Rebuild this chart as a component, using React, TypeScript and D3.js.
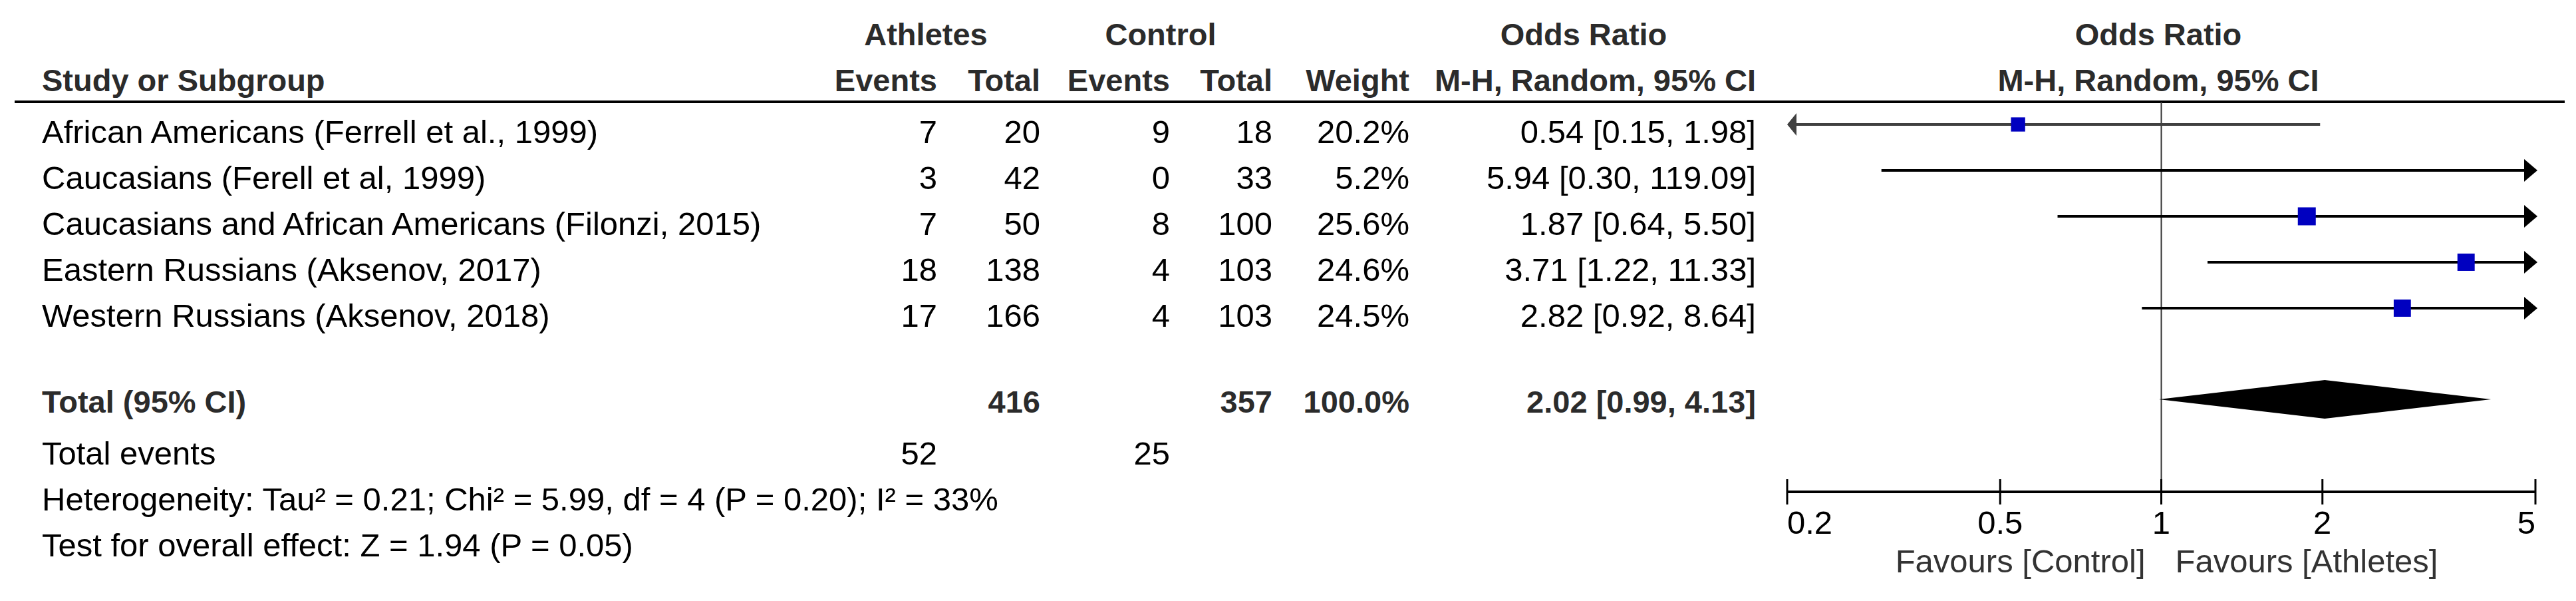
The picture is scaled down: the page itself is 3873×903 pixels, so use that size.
import React from "react";
import * as d3 from "d3";

const studies = [
  "African Americans (Ferrell et al., 1999)",
  "Caucasians (Ferell et al, 1999)",
  "Caucasians and African Americans (Filonzi, 2015)",
  "Eastern Russians (Aksenov, 2017)",
  "Western Russians (Aksenov, 2018)",
];
const athEvents = [7, 3, 7, 18, 17];
const athTotal = [20, 42, 50, 138, 166];
const ctlEvents = [9, 0, 8, 4, 4];
const ctlTotal = [18, 33, 100, 103, 103];
const weights = [20.2, 5.2, 25.6, 24.6, 24.5];
const oddsRatio = [0.54, 5.94, 1.87, 3.71, 2.82];
const ciLow = [0.15, 0.3, 0.64, 1.22, 0.92];
const ciHigh = [1.98, 119.09, 5.5, 11.33, 8.64];

const totalAth = 416;
const totalCtl = 357;
const totalWeight = 100.0;
const totalOR = 2.02;
const totalLow = 0.99;
const totalHigh = 4.13;
const totalEventsAth = 52;
const totalEventsCtl = 25;

const heterogeneityText = "Heterogeneity: Tau\u00B2 = 0.21; Chi\u00B2 = 5.99, df = 4 (P = 0.20); I\u00B2 = 33%";
const overallText = "Test for overall effect: Z = 1.94 (P = 0.05)";
const axisTicks = [0.2, 0.5, 1, 2, 5];

const W = 3873;
const H = 903;
const FONT = "'Liberation Sans', Arial, sans-serif";
const REG = 49;
const BOLD = 47;
const HEAD = "#2b2b2b";

export default function App() {
  const x = d3.scaleLog().domain([0.2, 5]).range([2687, 3812]);
  const rowY = d3.scaleLinear().domain([0, 1]).range([215, 284]);
  const sq = d3.scaleLinear().domain([0, 25.6]).range([0, 27]);
  const [dMin, dMax] = x.domain();

  const col = { aEv: 1409, aTot: 1564, cEv: 1759, cTot: 1913, wt: 2119, or: 2640 };
  const fmt2 = d3.format(".2f");
  const fmtW = (v: number) => d3.format(".1f")(v) + "%";
  const ciText = (o: number, l: number, h: number) => `${fmt2(o)} [${fmt2(l)}, ${fmt2(h)}]`;

  const totalY = 620;
  const eventsY = 698;
  const hetY = 767;
  const testY = 836;
  const axisY = 739;
  const headerLineY = 153;

  return (
    <svg
      width={W}
      height={H}
      viewBox={`0 0 ${W} ${H}`}
      style={{ position: "absolute", left: 0, top: 0, display: "block", background: "#fff" }}
      fontFamily={FONT}
    >
      <rect x={0} y={0} width={W} height={H} fill="#fff" />
      {/* header row 1 */}
      <g fontWeight="bold" fontSize={BOLD} fill={HEAD}>
        <text x={1392} y={68} textAnchor="middle">Athletes</text>
        <text x={1745} y={68} textAnchor="middle">Control</text>
        <text x={2381} y={68} textAnchor="middle">Odds Ratio</text>
        <text x={3245} y={68} textAnchor="middle">Odds Ratio</text>
        <text x={63} y={137}>Study or Subgroup</text>
        <text x={col.aEv} y={137} textAnchor="end">Events</text>
        <text x={col.aTot} y={137} textAnchor="end">Total</text>
        <text x={col.cEv} y={137} textAnchor="end">Events</text>
        <text x={col.cTot} y={137} textAnchor="end">Total</text>
        <text x={col.wt} y={137} textAnchor="end">Weight</text>
        <text x={col.or} y={137} textAnchor="end">M-H, Random, 95% CI</text>
        <text x={3245} y={137} textAnchor="middle">M-H, Random, 95% CI</text>
      </g>
      <line x1={22} x2={3856} y1={headerLineY} y2={headerLineY} stroke="#000" strokeWidth={4} />

      {/* study rows */}
      <g fontSize={REG} fill="#000">
        {studies.map((s, i) => {
          const y = rowY(i);
          return (
            <g key={s}>
              <text x={63} y={y}>{s}</text>
              <text x={col.aEv} y={y} textAnchor="end">{athEvents[i]}</text>
              <text x={col.aTot} y={y} textAnchor="end">{athTotal[i]}</text>
              <text x={col.cEv} y={y} textAnchor="end">{ctlEvents[i]}</text>
              <text x={col.cTot} y={y} textAnchor="end">{ctlTotal[i]}</text>
              <text x={col.wt} y={y} textAnchor="end">{fmtW(weights[i])}</text>
              <text x={col.or} y={y} textAnchor="end">{ciText(oddsRatio[i], ciLow[i], ciHigh[i])}</text>
            </g>
          );
        })}
      </g>

      {/* total rows */}
      <g fontWeight="bold" fontSize={BOLD} fill={HEAD}>
        <text x={63} y={totalY}>Total (95% CI)</text>
        <text x={col.aTot} y={totalY} textAnchor="end">{totalAth}</text>
        <text x={col.cTot} y={totalY} textAnchor="end">{totalCtl}</text>
        <text x={col.wt} y={totalY} textAnchor="end">{fmtW(totalWeight)}</text>
        <text x={col.or} y={totalY} textAnchor="end">{ciText(totalOR, totalLow, totalHigh)}</text>
      </g>
      <g fontSize={REG} fill="#000">
        <text x={63} y={eventsY}>Total events</text>
        <text x={col.aEv} y={eventsY} textAnchor="end">{totalEventsAth}</text>
        <text x={col.cEv} y={eventsY} textAnchor="end">{totalEventsCtl}</text>
        <text x={63} y={hetY}>{heterogeneityText}</text>
        <text x={63} y={testY}>{overallText}</text>
      </g>

      {/* null line */}
      <line x1={x(1)} x2={x(1)} y1={headerLineY} y2={axisY} stroke="#333" strokeWidth={2} />

      {/* CI lines and squares */}
      {studies.map((s, i) => {
        const cy = rowY(i) - 28;
        const lo = Math.max(ciLow[i], dMin);
        const hi = Math.min(ciHigh[i], dMax);
        const color = i === 0 ? "#404040" : "#000";
        const x1 = x(lo);
        const x2 = ciHigh[i] > dMax ? x(dMax) - 10 : x(hi);
        const size = sq(weights[i]);
        const showSq = oddsRatio[i] >= dMin && oddsRatio[i] <= dMax;
        return (
          <g key={"ci" + s}>
            <line x1={ciLow[i] < dMin ? x1 + 6 : x1} x2={x2} y1={cy} y2={cy} stroke={color} strokeWidth={4} />
            {ciLow[i] < dMin && (
              <path d={`M${x(dMin)},${cy} L${x(dMin) + 14},${cy - 17} L${x(dMin) + 14},${cy + 17} Z`} fill={color} />
            )}
            {ciHigh[i] > dMax && (
              <path d={`M${x(dMax) + 3},${cy} L${x(dMax) - 17},${cy - 17} L${x(dMax) - 17},${cy + 17} Z`} fill="#000" />
            )}
            {showSq && (
              <rect
                x={x(oddsRatio[i]) - size / 2}
                y={cy - size / 2}
                width={size}
                height={size}
                fill="#0000c0"
              />
            )}
          </g>
        );
      })}

      {/* diamond */}
      <path
        d={`M${x(totalLow)},${totalY - 20} L${x(totalOR)},${totalY - 49} L${x(totalHigh)},${totalY - 20} L${x(totalOR)},${totalY + 9} Z`}
        fill="#000"
      />

      {/* axis */}
      <line x1={x(dMin)} x2={x(dMax)} y1={axisY} y2={axisY} stroke="#000" strokeWidth={4} />
      {axisTicks.map((t, i) => (
        <g key={"t" + t}>
          <line x1={x(t)} x2={x(t)} y1={axisY - 19} y2={axisY + 19} stroke="#000" strokeWidth={3} />
          <text
            x={x(t)}
            y={802}
            fontSize={REG}
            fill="#000"
            textAnchor={i === 0 ? "start" : i === axisTicks.length - 1 ? "end" : "middle"}
          >
            {d3.format("~g")(t)}
          </text>
        </g>
      ))}
      <text x={x(1) - 24} y={860} fontSize={REG} fill="#333" textAnchor="end">Favours [Control]</text>
      <text x={x(1) + 21} y={860} fontSize={REG} fill="#333" textAnchor="start">Favours [Athletes]</text>
    </svg>
  );
}
